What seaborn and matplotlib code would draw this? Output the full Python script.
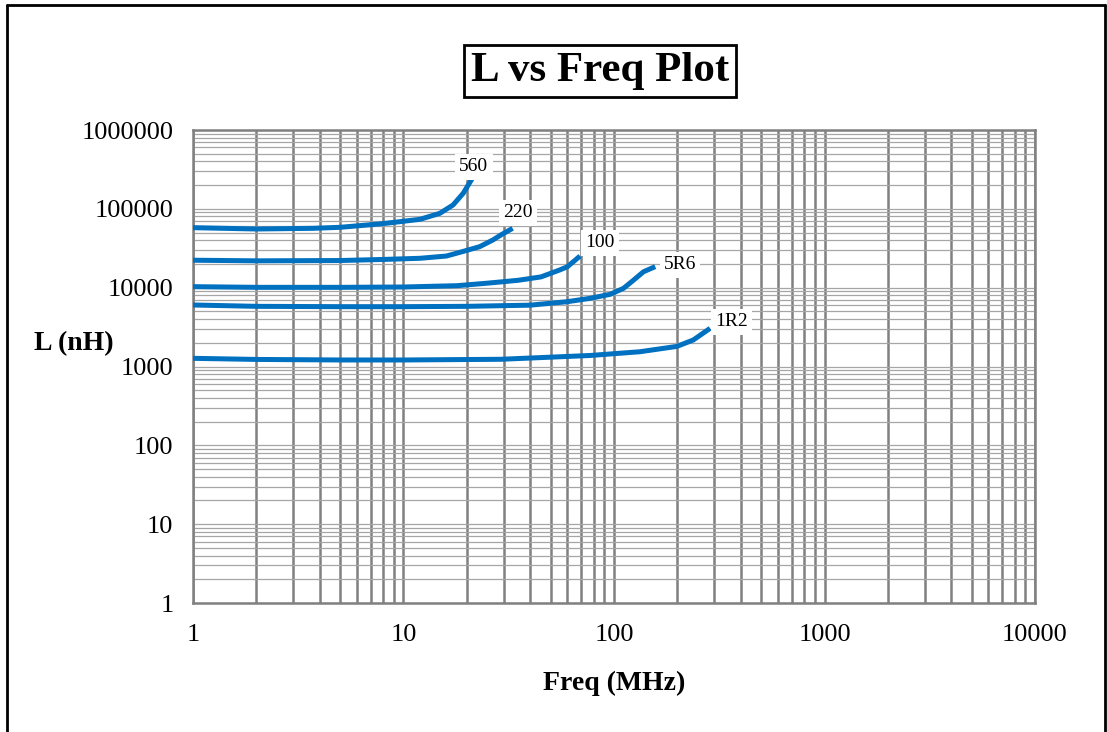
import numpy as np
import pandas as pd
import seaborn as sns
import matplotlib.pyplot as plt
from matplotlib.lines import Line2D
from matplotlib.ticker import LogLocator, FuncFormatter, NullFormatter

# inductance (nH) vs frequency (MHz), one list pair per part
freq_560 = [1, 2, 3.7, 5, 7.7, 9.6, 12, 14.9, 17.2, 19.2, 21, 21.8]
ind_560 = [57700, 55500, 56600, 58300, 64300, 68700, 73700, 87800, 112000, 157000, 232000, 285000]

freq_220 = [1, 2, 5, 8, 12, 16, 19, 23, 26.6, 29, 33]
ind_220 = [22300, 21900, 22100, 22800, 23600, 25200, 28600, 33100, 40300, 46600, 56600]

freq_100 = [1, 2, 5, 10, 18, 25, 35, 45, 55, 60, 69]
ind_100 = [10300, 10100, 10100, 10200, 10600, 11400, 12400, 13700, 16700, 18400, 25200]

freq_5r6 = [1, 2, 5, 10, 20, 40, 60, 77, 96, 111, 124, 138, 157]
ind_5r6 = [6030, 5800, 5740, 5740, 5800, 6000, 6640, 7330, 8240, 9820, 12500, 15900, 18500]

freq_1r2 = [1, 2, 5, 10, 29, 77, 133, 199, 238, 286]
ind_1r2 = [1270, 1230, 1210, 1210, 1235, 1380, 1540, 1800, 2170, 3050]

parts = ["560", "220", "100", "5R6", "1R2"]
# where each part name sits (freq, L)
label_pos = [(21.6, 340000), (35, 88600), (86, 36900), (206, 19400), (360, 3670)]

series = [(freq_560, ind_560), (freq_220, ind_220), (freq_100, ind_100),
          (freq_5r6, ind_5r6), (freq_1r2, ind_1r2)]
df = pd.concat(
    [pd.DataFrame({"freq": f, "L": l, "part": p}) for p, (f, l) in zip(parts, series)],
    ignore_index=True,
)

sns.set_style("white")
plt.rcParams["font.family"] = ["Liberation Serif", "DejaVu Serif"]
plt.rcParams["text.color"] = "black"
plt.rcParams["axes.labelcolor"] = "black"

fig = plt.figure(figsize=(11.07, 7.32), dpi=100)
ax = fig.add_axes([0.1743, 0.1762, 0.7607, 0.6462])

sns.lineplot(data=df, x="freq", y="L", hue="part", palette=["#0070C0"] * 5,
             linewidth=3.6, legend=False, ax=ax, zorder=3,
             solid_joinstyle="round", solid_capstyle="butt")

ax.set_xscale("log")
ax.set_yscale("log")
ax.set_xlim(1, 10000)
ax.set_ylim(1, 1e6)

fmt = FuncFormatter(lambda v, _: "{:d}".format(int(round(v))))
ax.xaxis.set_major_locator(LogLocator(base=10, numticks=10))
ax.yaxis.set_major_locator(LogLocator(base=10, numticks=10))
ax.xaxis.set_minor_locator(LogLocator(base=10, subs=np.arange(2, 10), numticks=20))
ax.yaxis.set_minor_locator(LogLocator(base=10, subs=np.arange(2, 10), numticks=20))
ax.xaxis.set_major_formatter(fmt)
ax.yaxis.set_major_formatter(fmt)
ax.xaxis.set_minor_formatter(NullFormatter())
ax.yaxis.set_minor_formatter(NullFormatter())
ax.tick_params(which="both", length=0, labelsize=19, colors="black")
ax.tick_params(axis="x", pad=15)
ax.tick_params(axis="y", pad=14)

ax.grid(True, axis="x", which="both", color="#808080", linewidth=1.8)
ax.grid(True, axis="y", which="both", color="#a6a6a6", linewidth=0.9)
ax.set_axisbelow(True)
for sp in ax.spines.values():
    sp.set_color("#808080")
    sp.set_linewidth(1.8)

ax.set_xlabel("Freq (MHz)", fontsize=20, fontweight="bold", labelpad=18)
ax.set_ylabel("")
fig.text(0.031, 0.531, "L (nH)", fontsize=20, fontweight="bold", ha="left", va="center")

for p, (lx, ly) in zip(parts, label_pos):
    ax.text(lx, ly, p, fontsize=14, ha="center", va="center", zorder=4,
            bbox=dict(facecolor="white", edgecolor="none", pad=3))

fig.text(0.542, 0.903, "L vs Freq Plot", fontsize=31, fontweight="bold",
         ha="center", va="center",
         bbox=dict(boxstyle="square,pad=0.16", facecolor="white",
                   edgecolor="black", linewidth=2))

# outer frame: left, top, right (bottom runs off the picture)
for xs, ys in [([0.006, 0.006], [0.0, 0.993]), ([0.006, 0.998], [0.993, 0.993]),
               ([0.998, 0.998], [0.0, 0.993])]:
    fig.add_artist(Line2D(xs, ys, color="black", linewidth=2, transform=fig.transFigure))

fig.savefig("out.png", dpi=100)
